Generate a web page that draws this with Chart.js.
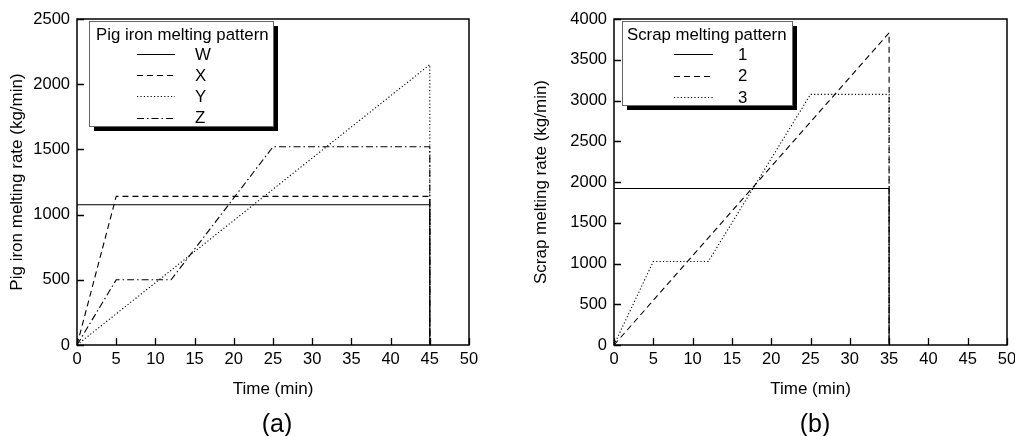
<!DOCTYPE html>
<html>
<head>
<meta charset="utf-8">
<script src="https://cdn.jsdelivr.net/npm/chart.js@4/dist/chart.umd.min.js"></script>
<style>
  html, body { margin: 0; padding: 0; background: #fff; }
  #wrap { position: relative; width: 1015px; height: 436px; overflow: hidden; }
  canvas { position: absolute; top: 0; }
  .caption {
    position: absolute; top: 408px; width: 60px; text-align: center;
    font: 25px "Liberation Sans", Arial, sans-serif; line-height: 30px; color: #000;
  }
</style>
</head>
<body>
<div id="wrap">
  <canvas id="chartPig" width="500" height="436" style="left:0"></canvas>
  <canvas id="chartScrap" width="515" height="436" style="left:500px"></canvas>
  <div class="caption" style="left:247px">(a)</div>
  <div class="caption" style="left:785px">(b)</div>
</div>
<script>
// Gusa (pig iron) - padrões W, X, Y, Z
const tempoW = [0, 45, 45];
const taxaW = [1075, 1075, 0];
const tempoX = [0, 5, 45, 45];
const taxaX = [0, 1140, 1140, 0];
const tempoY = [0, 45, 45];
const taxaY = [0, 2150, 0];
const tempoZ = [0, 5, 12, 25, 45, 45];
const taxaZ = [0, 500, 500, 1520, 1520, 0];

// Sucata (scrap) - padrões 1, 2, 3
const tempo1 = [0, 35, 35];
const taxa1 = [1920, 1920, 0];
const tempo2 = [0, 35, 35];
const taxa2 = [0, 3830, 0];
const tempo3 = [0, 5, 12, 25, 35, 35];
const taxa3 = [0, 1025, 1025, 3075, 3075, 0];

const FONTE = '"Liberation Sans", Arial, sans-serif';
const TRACO = {
    solido: [],
    tracejado: [6, 4],
    pontilhado: [1.2, 2.2],
    tracoPonto: [7, 3, 1.5, 3]
};

function serie(label, xs, ys, dash) {
    return {
        label: label,
        data: xs.map((x, i) => ({ x: x, y: ys[i] })),
        borderColor: '#000',
        borderWidth: 1.1,
        borderDash: dash,
        pointRadius: 0,
        tension: 0,
        fill: false
    };
}

/**
 * Moldura da área do gráfico + marcas internas nos eixos
 */
const molduraPlugin = {
    id: 'moldura',
    afterDatasetsDraw(chart) {
        const { ctx, chartArea: a, scales } = chart;
        ctx.save();
        ctx.strokeStyle = '#000';
        ctx.lineWidth = 1.5;
        ctx.setLineDash([]);
        ctx.strokeRect(a.left, a.top, a.right - a.left, a.bottom - a.top);
        ctx.lineWidth = 1.3;
        ctx.beginPath();
        scales.x.ticks.forEach(t => {
            const px = Math.round(scales.x.getPixelForValue(t.value)) + 0.5;
            ctx.moveTo(px, a.bottom);
            ctx.lineTo(px, a.bottom - 7);
        });
        scales.y.ticks.forEach(t => {
            const py = Math.round(scales.y.getPixelForValue(t.value)) + 0.5;
            ctx.moveTo(a.left, py);
            ctx.lineTo(a.left + 7, py);
        });
        ctx.stroke();
        ctx.restore();
    }
};

/**
 * Legenda em caixa com sombra preta deslocada
 */
const legendaPlugin = {
    id: 'legendaCaixa',
    afterDraw(chart, args, opts) {
        const { ctx } = chart;
        const b = opts.box;
        ctx.save();
        ctx.setLineDash([]);
        ctx.fillStyle = '#000';
        ctx.fillRect(b.x + 5, b.y + 5, b.w, b.h);
        ctx.fillStyle = '#fff';
        ctx.fillRect(b.x, b.y, b.w, b.h);
        ctx.strokeStyle = '#666';
        ctx.lineWidth = 1;
        ctx.strokeRect(b.x + 0.5, b.y + 0.5, b.w, b.h);

        ctx.fillStyle = '#000';
        ctx.font = '16.8px ' + FONTE;
        ctx.textBaseline = 'middle';
        ctx.textAlign = 'left';
        ctx.fillText(opts.title, opts.titleX, opts.titleY);

        chart.data.datasets.forEach((ds, i) => {
            const y = opts.rowY + i * opts.rowGap;
            ctx.beginPath();
            ctx.setLineDash(ds.borderDash);
            ctx.lineWidth = 1.1;
            ctx.strokeStyle = '#000';
            ctx.moveTo(opts.lineX0, Math.round(y) + 0.5);
            ctx.lineTo(opts.lineX1, Math.round(y) + 0.5);
            ctx.stroke();
            ctx.setLineDash([]);
            ctx.fillText(ds.label, opts.labelX, y + 1);
        });
        ctx.restore();
    }
};

function criarGrafico(id, datasets, yMax, yTitulo, larguraY, padTituloY, padDireita, legenda) {
    const ctx = document.getElementById(id).getContext('2d');
    const fonteTick = { family: FONTE, size: 16.5 };
    const fonteTitulo = { family: FONTE, size: 17 };
    return new Chart(ctx, {
        type: 'line',
        data: { datasets: datasets },
        plugins: [molduraPlugin, legendaPlugin],
        options: {
            responsive: false,
            animation: false,
            layout: { padding: { left: 0, top: 19, right: padDireita, bottom: 0 } },
            plugins: {
                legend: { display: false },
                tooltip: { enabled: false },
                legendaCaixa: legenda
            },
            scales: {
                x: {
                    type: 'linear',
                    min: 0,
                    max: 50,
                    ticks: { stepSize: 5, color: '#000', padding: 5, font: fonteTick, callback: v => String(v) },
                    grid: { display: false, drawTicks: false },
                    border: { display: false },
                    title: {
                        display: true, text: 'Time (min)', color: '#000',
                        font: fonteTitulo,
                        padding: { top: 0, bottom: 36 }
                    },
                    afterFit: s => { s.height = 91; s.paddingLeft = 0; s.paddingRight = 0; }
                },
                y: {
                    type: 'linear',
                    min: 0,
                    max: yMax,
                    ticks: { stepSize: 500, color: '#000', padding: 7, font: fonteTick, callback: v => String(v) },
                    grid: { display: false, drawTicks: false },
                    border: { display: false },
                    title: {
                        display: true, text: yTitulo, color: '#000',
                        font: fonteTitulo,
                        padding: { top: padTituloY, bottom: 0 }
                    },
                    afterFit: s => { s.width = larguraY; s.paddingTop = 0; s.paddingBottom = 0; }
                }
            }
        }
    });
}

criarGrafico('chartPig', [
    serie('W', tempoW, taxaW, TRACO.solido),
    serie('X', tempoX, taxaX, TRACO.tracejado),
    serie('Y', tempoY, taxaY, TRACO.pontilhado),
    serie('Z', tempoZ, taxaZ, TRACO.tracoPonto)
], 2500, 'Pig iron melting rate (kg/min)', 77, 7.3, 31, {
    box: { x: 89, y: 21, w: 184, h: 105 },
    title: 'Pig iron melting pattern', titleX: 96, titleY: 35,
    rowY: 54, rowGap: 21.2, lineX0: 137, lineX1: 175, labelX: 195
});

criarGrafico('chartScrap', [
    serie('1', tempo1, taxa1, TRACO.solido),
    serie('2', tempo2, taxa2, TRACO.tracejado),
    serie('3', tempo3, taxa3, TRACO.pontilhado)
], 4000, 'Scrap melting rate (kg/min)', 114, 30.8, 8, {
    box: { x: 122, y: 21, w: 170, h: 84 },
    title: 'Scrap melting pattern', titleX: 127, titleY: 35,
    rowY: 54, rowGap: 21.5, lineX0: 174, lineX1: 213, labelX: 238
});
</script>
</body>
</html>
